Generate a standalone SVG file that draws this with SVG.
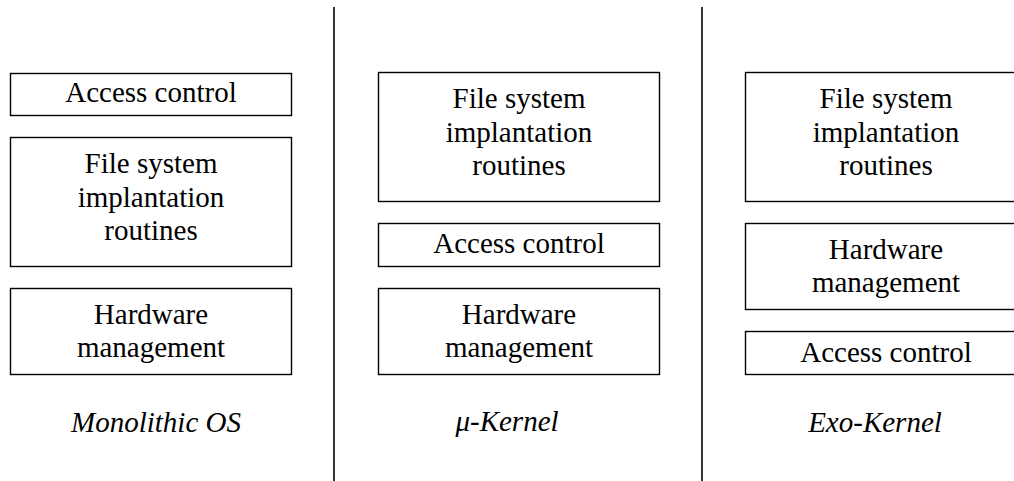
<svg xmlns="http://www.w3.org/2000/svg" width="1014" height="481" viewBox="0 0 1014 481">
<style>
.box{fill:#fff;stroke:#000;stroke-width:1.4}
.t{font-family:"Liberation Serif","Times New Roman",serif;font-size:29px;fill:#000;text-anchor:middle}
.cap{font-family:"Liberation Serif","Times New Roman",serif;font-size:29px;font-style:italic;fill:#000;text-anchor:middle}
.sep{stroke:#000;stroke-width:1.6;fill:none}
</style>
<rect width="1014" height="481" fill="#fff"/>
<g id="connectors">
<line class="sep" x1="334" y1="7" x2="334" y2="481"/>
<line class="sep" x1="702" y1="7" x2="702" y2="481"/>
</g>
<g id="mono-access">
<rect class="box" x="10.5" y="73.5" width="281" height="42"/>
<text class="t" x="151" y="102">Access control</text>
</g>
<g id="mono-fs">
<rect class="box" x="10.5" y="137.5" width="281" height="129"/>
<text class="t" x="151" y="173">File system</text>
<text class="t" x="151" y="206.5">implantation</text>
<text class="t" x="151" y="240">routines</text>
</g>
<g id="mono-hw">
<rect class="box" x="10.5" y="288.5" width="281" height="86"/>
<text class="t" x="151" y="323.5">Hardware</text>
<text class="t" x="151" y="357">management</text>
</g>
<g id="mono-label">
<text class="cap" x="156" y="431.5">Monolithic OS</text>
</g>
<g id="micro-fs">
<rect class="box" x="378.5" y="72.5" width="281" height="129"/>
<text class="t" x="519" y="108">File system</text>
<text class="t" x="519" y="141.5">implantation</text>
<text class="t" x="519" y="175">routines</text>
</g>
<g id="micro-access">
<rect class="box" x="378.5" y="223.5" width="281" height="43"/>
<text class="t" x="519" y="253">Access control</text>
</g>
<g id="micro-hw">
<rect class="box" x="378.5" y="288.5" width="281" height="86"/>
<text class="t" x="519" y="323.5">Hardware</text>
<text class="t" x="519" y="357">management</text>
</g>
<g id="micro-label">
<text class="cap" x="507" y="431">μ-Kernel</text>
</g>
<g id="exo-fs">
<rect class="box" x="745.5" y="72.5" width="281" height="129"/>
<text class="t" x="886" y="108">File system</text>
<text class="t" x="886" y="141.5">implantation</text>
<text class="t" x="886" y="175">routines</text>
</g>
<g id="exo-hw">
<rect class="box" x="745.5" y="223.5" width="281" height="86"/>
<text class="t" x="886" y="258.5">Hardware</text>
<text class="t" x="886" y="292">management</text>
</g>
<g id="exo-access">
<rect class="box" x="745.5" y="331.5" width="281" height="43"/>
<text class="t" x="886" y="361.5">Access control</text>
</g>
<g id="exo-label">
<text class="cap" x="875" y="431.5">Exo-Kernel</text>
</g>
</svg>
